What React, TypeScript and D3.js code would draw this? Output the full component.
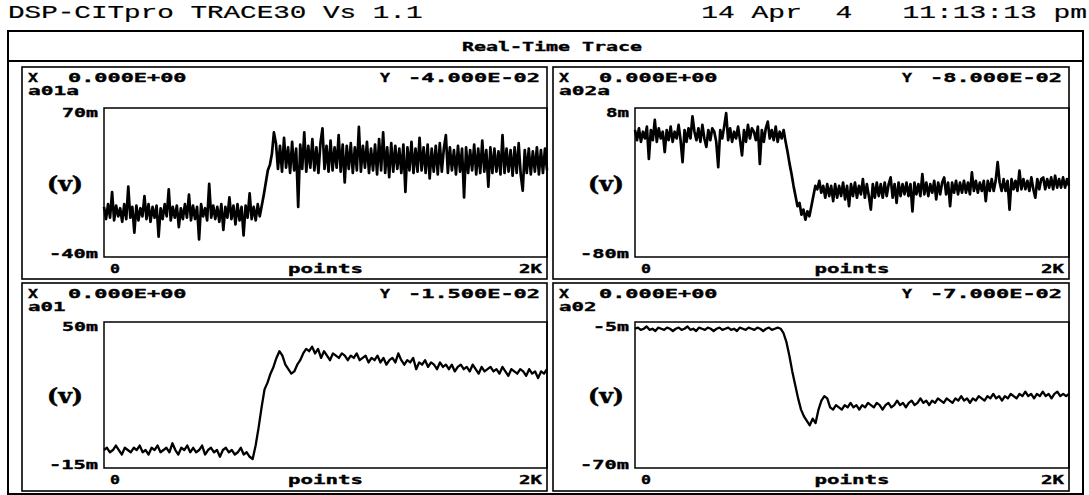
import React from "react";
import * as d3 from "d3";

// header texts
const titleText = "DSP-CITpro TRACE30 Vs 1.1";
const dateText = "14 Apr  4   11:13:13 pm";
const headerText = "Real-Time Trace";

// per channel labels (order: top-left, top-right, bottom-left, bottom-right)
const channelNames = ["a01a", "a02a", "a01", "a02"];
const xCursor = ["0.000E+00", "0.000E+00", "0.000E+00", "0.000E+00"];
const yCursor = ["-4.000E-02", "-8.000E-02", "-1.500E-02", "-7.000E-02"];
const yMax = [70, 8, 50, -5];
const yMin = [-40, -80, -15, -70];
const yTopLabels = ["70m", "8m", "50m", "-5m"];
const yBottomLabels = ["-40m", "-80m", "-15m", "-70m"];
const xTickLabels = ["0", "2K"];
const xAxisLabel = "points";
const yAxisLabel = "(v)";
const xMaxPoints = 2000;

// traces in mV
const a01a = [
  -3, -12, -1, -11, 8, -13, -2, -10, -4, -14,
  -1, -12, 12, -11, -3, -22, -2, -13, -4, -10,
  5, -12, -1, -14, -3, -11, -2, -25, -4, -12,
  -1, -10, 10, -13, -3, -11, -2, -18, -4, -12,
  -1, -11, 6, -13, -2, -12, -3, -27, -1, -10,
  -4, -13, 14, -11, -2, -12, -3, -14, -1, -20,
  -3, -11, 4, -12, -2, -16, -1, -13, -3, -24,
  -2, -11, 7, -12, -3, -13, -1, -10,
  -2, 6, 15, 24, 28, 36, 52,
  44, 25, 42, 23, 48, 26, 41, 22, 45, 24,
  40, -3, 43, 25, 52, 23, 42, 26, 47, 24,
  41, 22, 44, 55, 25, 42, 23, 46, 24, 41,
  26, 50, 23, 43, 15, 42, 25, 44, 22, 41,
  24, 56, 23, 42, 26, 45, 22, 40, 24, 43,
  21, 47, 24, 52, 22, 41, 19, 44, 23, 42,
  25, 40, 22, 43, 8, 41, 24, 45, 22, 40,
  23, 48, 24, 41, 22, 43, 18, 40, 23, 42,
  21, 44, 23, 40, 50, 22, 41, 24, 39, 21,
  42, 23, 40, 4, 41, 22, 39, 24, 43, 21,
  40, 22, 46, 23, 39, 12, 41, 22, 40, 23,
  38, 21, 50, 22, 40, 23, 39, 20, 41, 22,
  44, 21, 9, 39, 22, 40, 21, 38, 23, 41,
  21, 39, 22, 40, 24,
];

const a02a = [
  -5, -11, -4, -12, -6, -10, -3, -22, -5, -11,
  1, -12, -4, -10, -6, -18, -5, -11, -3, -12,
  -6, -10, -2, -11, -24, -5, -12, -4, -10, 3,
  -6, -11, -4, -12, -2, -10, -15, -5, -11, -4,
  -6, -12, -27, -5, -10, -3, 5, -11, -4, -12,
  -6, -10, -3, -11, -20, -5, -12, -2, -10, -4,
  -6, -11, -3, -25, -5, -12, -4, 0, -10, -5,
  -11, -3, -12, -6, -10, -5,
  -12, -18, -25, -31, -38, -44, -50, -48, -55, -52, -58, -53, -56,
  -50, -44, -38, -40, -35, -42, -38,
  -45, -37, -44, -38, -47, -37, -45, -38, -44, -36,
  -46, -38, -50, -37, -44, -36, -45, -38, -43, -34,
  -45, -37, -44, -52, -37, -45, -36, -44, -37, -45,
  -36, -44, -37, -33, -45, -37, -48, -36, -44, -37,
  -43, -36, -44, -37, -53, -36, -43, -37, -44, -31,
  -43, -36, -44, -37, -42, -35, -46, -36, -43, -36,
  -33, -43, -36, -50, -36, -42, -35, -43, -36, -42,
  -35, -42, -36, -43, -30, -41, -35, -42, -36, -41,
  -35, -47, -35, -41, -34, -41, -35, -24, -36, -41,
  -34, -41, -35, -52, -34, -40, -35, -41, -29, -40,
  -34, -40, -35, -41, -33, -40, -45, -34, -40, -34,
  -33, -40, -34, -39, -33, -40, -32, -39, -34, -39,
  -33, -39, -34, -38,
];

const a01 = [
  -7, -6, -8, -7, -5, -7, -9, -6, -7, -8,
  -6, -7, -5, -8, -7, -9, -6, -7, -5, -8,
  -7, -6, -8, -4, -7, -9, -6, -7, -5, -8,
  -6, -8, -7, -5, -9, -7, -6, -8, -7, -10,
  -7, -6, -8, -7, -9, -8, -6, -9, -8, -10, -11,
  -5, 3, 12, 20, 23, 27, 30, 34, 37,
  35, 31, 29, 27, 28,
  31, 33, 36, 38, 37, 39,
  36, 38, 34, 37, 35, 33, 36, 35, 34, 36,
  35, 33, 35, 34, 36, 33, 34, 35, 32, 34,
  33, 35, 32, 34, 31, 33, 34, 32, 36, 33,
  31, 33, 32, 34, 29, 32, 31, 33, 30, 32,
  31, 29, 32, 30, 31, 29, 31, 28, 30, 31,
  29, 30, 28, 31, 29, 27, 30, 28, 29, 30,
  28, 29, 27, 30, 28, 26, 29, 28, 27, 29,
  28, 26, 29, 27, 28, 25, 28, 27, 29,
];

const a02 = [
  -8, -7.5, -8.5, -8, -7, -8.5, -8, -9, -7.5, -8,
  -8.5, -7.5, -8, -9, -8, -7.5, -8.5, -8, -7, -8.5,
  -8, -9, -7.5, -8, -8.5, -7.5, -8, -9, -8, -7.5,
  -8.5, -8, -7.5, -8.5, -8, -9, -7.5, -8, -8.5, -7.5,
  -8, -8.5, -7.5, -8, -9, -8, -7.5, -8.5, -8, -7.5, -8,
  -10, -14, -20, -27, -33, -39, -44, -47, -49, -51,
  -48, -50, -44, -40, -38, -39,
  -43, -44, -42, -43, -44, -42, -43, -41, -43, -42,
  -44, -42, -43, -41, -42, -43, -41, -42, -44, -42,
  -41, -43, -42, -40, -42, -41, -43, -41, -40, -42,
  -41, -39, -41, -40, -42, -40, -41, -39, -40, -41,
  -39, -40, -41, -39, -40, -38, -40, -39, -41, -39,
  -40, -38, -39, -40, -38, -39, -37, -39, -38, -40,
  -38, -39, -37, -38, -39, -37, -38, -36, -38, -37,
  -39, -37, -38, -36, -38, -37, -39, -37, -36, -38, -37, -38, -37,
];

const traces = [a01a, a02a, a01, a02];

// layout
const W = 1089;
const H = 495;
const cols = [
  { x0: 22, x1: 547, vx: 65 },
  { x0: 553, x1: 1069, vx: 606 },
];
const rows = [
  { y0: 67, y1: 279, top: 108, bottom: 257 },
  { y0: 283, y1: 491, top: 322, bottom: 468 },
];
const PF = "'DejaVu Sans Mono', monospace";
const MF = "'Liberation Mono', 'Courier New', monospace";

// stretched text, the screen font is much wider than any installed one
function T({ x, y, s, adv = 13, end = false, mid = false, size = 12, family = PF, weight = "bold", heavy = 0.35 }: any) {
  const len = s.length * adv - 3;
  const x0 = end ? x - len : mid ? x - len / 2 : x;
  return (
    <text
      x={x0}
      y={y}
      textLength={len}
      lengthAdjust="spacingAndGlyphs"
      fontFamily={family}
      fontWeight={weight}
      fontSize={size}
      stroke="#000"
      strokeWidth={heavy}
      xmlSpace="preserve"
      style={{ whiteSpace: "pre" }}
    >
      {s}
    </text>
  );
}

function Panel({ k }: { k: number }) {
  const c = cols[k % 2];
  const r = rows[Math.floor(k / 2)];
  const left = c.x0 + 82;
  const right = c.x1;
  const data = traces[k];

  const x = d3.scaleLinear().domain([0, xMaxPoints]).range([left, right]);
  const y = d3.scaleLinear().domain([yMin[k], yMax[k]]).range([r.bottom, r.top]);
  const line = d3
    .line<number>()
    .x((d, i) => x((i * xMaxPoints) / (data.length - 1)))
    .y((d) => y(d));

  const noisy = k < 2;

  return (
    <g>
      <rect x={c.x0} y={r.y0} width={c.x1 - c.x0} height={r.y1 - r.y0} fill="none" stroke="#000" strokeWidth={1.6} />
      <T x={c.x0 + 6} y={r.y0 + 15} s="X" />
      <T x={c.x0 + 46} y={r.y0 + 15} s={xCursor[k]} adv={13.5} />
      <T x={c.x1 - 7} y={r.y0 + 15} s={yCursor[k]} adv={13.5} end />
      <T x={c.x1 - 7 - 10 * 13.5 - 25} y={r.y0 + 15} s="Y" />
      <T x={c.x0 + 6} y={r.y0 + 28} s={channelNames[k]} adv={13.5} />

      <T x={left - 6} y={y(yMax[k]) + 9} s={yTopLabels[k]} end />
      <T x={left - 6} y={y(yMin[k]) + 1} s={yBottomLabels[k]} end />
      <T x={c.vx} y={(r.top + r.bottom) / 2 + 8} s={yAxisLabel} adv={13} mid size={20} family="'DejaVu Serif', serif" heavy={0.5} />

      <rect x={left} y={r.top} width={right - left} height={r.bottom - r.top} fill="none" stroke="#000" strokeWidth={1.5} />
      <path d={line(data) || ""} fill="none" stroke="#000" strokeWidth={noisy ? 2.7 : 2.3} strokeLinejoin="round" />

      <T x={left + 6} y={r.bottom + 16} s={xTickLabels[0]} />
      <T x={(left + right) / 2} y={r.bottom + 16} s={xAxisLabel} mid />
      <T x={right - 5} y={r.bottom + 16} s={xTickLabels[1]} end />
    </g>
  );
}

export default function App() {
  return (
    <svg width={W} height={H} style={{ position: "absolute", left: 0, top: 0, background: "#fff" }}>
      <rect x={0} y={0} width={W} height={H} fill="#fff" />
      <T x={8} y={18} s={titleText} adv={16.7} size={18} family={MF} weight="normal" heavy={0.2} />
      <T x={1087} y={18} s={dateText} adv={16.9} end size={18} family={MF} weight="normal" heavy={0.2} />

      <rect x={8} y={31} width={1075} height={463} fill="none" stroke="#000" strokeWidth={2} />
      <line x1={8} x2={1083} y1={61} y2={61} stroke="#000" strokeWidth={2} />
      <T x={552} y={51} s={headerText} adv={12.2} mid />

      {[0, 1, 2, 3].map((k) => (
        <Panel key={k} k={k} />
      ))}
    </svg>
  );
}
